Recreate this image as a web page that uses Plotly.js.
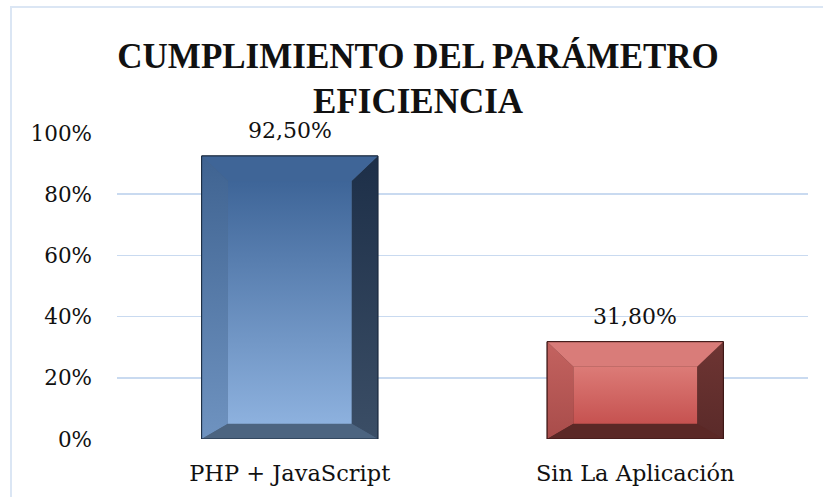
<!DOCTYPE html>
<html>
<head>
<meta charset="utf-8">
<script src="https://cdn.plot.ly/plotly-3.0.1.min.js"></script>
<style>
html,body{margin:0;padding:0;background:#fff;}
#wrap{position:relative;width:823px;height:497px;overflow:hidden;}
#frame{position:absolute;left:10px;top:6px;width:830px;height:520px;border-left:2px solid #dbe6f4;border-top:2px solid #dbe6f4;pointer-events:none;z-index:5;}
#chart{position:absolute;left:0;top:0;width:823px;height:497px;}
</style>
</head>
<body>
<div id="wrap"><div id="chart"></div><div id="frame"></div></div>
<script>
// ---- data ----
const categories = ["PHP + JavaScript", "Sin La Aplicación"];
const values = [0.925, 0.318];
const titleText = "CUMPLIMIENTO DEL PARÁMETRO<br>EFICIENCIA";

// ---- styles ----
const styles = [
  {face:[[0,'#8db1de'],[1,'#3e6598']], top:'#3f6597', left:[[0,'#6f93c0'],[1,'#3f6391']], right:[[0,'#3b4e66'],[1,'#1d2f48']], bottom:'#4c6480', line:'#1a2a3f'},
  {face:[[0,'#c65250'],[1,'#dc7b77']], top:'#d97c79', left:[[0,'#a84c4a'],[1,'#c46360']], right:[[0,'#5a2a29'],[1,'#6e3533']], bottom:'#5b2826', line:'#3a1514'}
];
const barW = 0.51, bevX = 0.076, bevTop = 0.082, bevBot = 0.05;

const serif = 'DejaVu Serif, Georgia, serif';
const traces = [];
// base bars (full value)
traces.push({
  type:'bar', x: categories.map((c,i)=>i), y: values, width: barW,
  marker:{color: styles.map(s=>s.bottom), line:{color: styles.map(s=>s.line), width:1}},
  hoverinfo:'skip', showlegend:false
});
function poly(xs, ys, fill, grad){
  const t = {type:'scatter', mode:'lines', x: xs.concat([xs[0]]), y: ys.concat([ys[0]]), fill:'toself',
    line:{width:0, color:'rgba(0,0,0,0)'}, hoverinfo:'skip', showlegend:false};
  if (grad) { t.fillgradient = {type:'vertical', colorscale: grad}; t.fillcolor = grad[0][1]; }
  else t.fillcolor = fill;
  return t;
}
values.forEach((v,i)=>{
  const s = styles[i];
  const x0 = i - barW/2, x1 = i + barW/2, xi0 = x0 + bevX, xi1 = x1 - bevX;
  const yi0 = bevBot, yi1 = v - bevTop;
  traces.push(poly([x0,x0,xi0,xi0],[0,v,yi1,yi0], null, s.left));
  traces.push(poly([x1,x1,xi1,xi1],[0,v,yi1,yi0], null, s.right));
  traces.push(poly([x0,x1,xi1,xi0],[v,v,yi1,yi1], s.top));
  traces.push(poly([x0,x1,xi1,xi0],[0,0,yi0,yi0], s.bottom));
  traces.push(poly([xi0,xi1,xi1,xi0],[yi0,yi0,yi1,yi1], null, s.face));
  traces.push({type:'scatter', mode:'lines', x:[x0,x1,x1,x0,x0], y:[0,0,v,v,0],
    line:{color:s.line, width:1}, hoverinfo:'skip', showlegend:false});
});

const annotations = values.map((v,i)=>({
  x:i, y:v, xref:'x', yref:'y', yanchor:'bottom', yshift:11, showarrow:false,
  text:(v*100).toFixed(2).replace('.',',')+'%',
  font:{family:serif, size:22, color:'#111'}
}));

const layout = {
  width:823, height:497,
  margin:{l:117, r:15, t:133, b:58},
  paper_bgcolor:'#fff', plot_bgcolor:'#fff',
  title:{text:titleText, x:0.508, xanchor:'center', y:0.864, yanchor:'middle',
    font:{family:'Liberation Serif, Times New Roman, serif', size:35, color:'#111', weight:'bold'}},
  showlegend:false,
  xaxis:{range:[-0.5,1.5], tickvals: categories.map((c,i)=>i), ticktext: categories,
    showgrid:false, zeroline:false, showline:false, ticks:'', ticklabelstandoff:18,
    tickfont:{family:serif, size:22.5, color:'#111'}, fixedrange:true},
  yaxis:{range:[0,1], dtick:0.2, tickformat:'.0%', showgrid:true, gridcolor:'#c9daf0', gridwidth:1.5,
    zeroline:false, showline:false, ticks:'', ticklabelstandoff:24,
    tickfont:{family:serif, size:21.5, color:'#111'}, fixedrange:true},
  annotations: annotations
};
Plotly.newPlot('chart', traces, layout, {displayModeBar:false, staticPlot:true});
</script>
</body>
</html>
